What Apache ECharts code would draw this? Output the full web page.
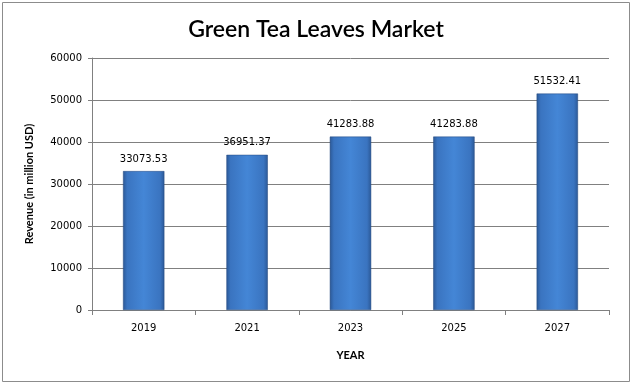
<!DOCTYPE html>
<html><head><meta charset="utf-8">
<script src="https://cdn.jsdelivr.net/npm/echarts@6/dist/echarts.min.js"></script>
<style>html,body{margin:0;padding:0;background:#fff}#c{width:632px;height:384px}</style>
</head><body><div id="c"></div>
<script>
const categories = ['2019','2021','2023','2025','2027'];
const revenue = [33073.53, 36951.37, 41283.88, 41283.88, 51532.41];
const yTicks = [0,10000,20000,30000,40000,50000,60000];

const chart = echarts.init(document.getElementById('c'), null, {renderer:'canvas'});
const barColor = new echarts.graphic.LinearGradient(0,0,1,0,[
  {offset:0,color:'#2b5896'},
  {offset:0.1,color:'#3a74c0'},
  {offset:0.5,color:'#4486d6'},
  {offset:0.9,color:'#3a74c0'},
  {offset:1,color:'#2b5896'}
]);
chart.setOption({
  animation:false,
  backgroundColor:'#fff',
  graphic:[{type:'rect',shape:{x:2.5,y:2.5,width:627,height:379},style:{fill:'none',stroke:'#8c8c8c',lineWidth:1}}],
  title:{text:'Green Tea Leaves Market',left:'center',top:13,
    textStyle:{fontFamily:'Lato, "Open Sans", sans-serif',fontWeight:600,fontSize:23,color:'#000'}},
  grid:{left:92,right:23,top:58,bottom:74},
  xAxis:{type:'category',data:categories,name:'YEAR',nameLocation:'middle',nameGap:40,
    nameTextStyle:{fontFamily:'Lato, sans-serif',fontWeight:'bold',fontSize:11,color:'#000'},
    axisLine:{lineStyle:{color:'#808080'}},
    axisTick:{show:true,alignWithLabel:false,length:5,lineStyle:{color:'#808080'}},
    axisLabel:{fontFamily:'DejaVu Sans',fontSize:10,color:'#000',margin:13}},
  yAxis:{type:'value',min:yTicks[0],max:yTicks[yTicks.length-1],interval:10000,
    name:'Revenue (in million USD)',nameLocation:'middle',nameGap:57,
    nameTextStyle:{fontFamily:'Lato, sans-serif',fontWeight:'bold',fontSize:11,color:'#000'},
    axisLine:{show:true,lineStyle:{color:'#808080'}},
    axisTick:{show:true,length:4,lineStyle:{color:'#808080'}},
    axisLabel:{fontFamily:'DejaVu Sans',fontSize:10,color:'#000',margin:10,formatter:v=>String(v)},
    splitLine:{lineStyle:{color:'#808080',width:1}}},
  series:[{type:'bar',data:revenue,barWidth:'40%',
    itemStyle:{color:barColor,borderColor:'#25497e',borderWidth:0.5},
    label:{show:true,position:'top',distance:7,fontFamily:'DejaVu Sans',fontSize:10,color:'#000',
      formatter:p=>p.value.toFixed(2)}}]
});
</script></body></html>
